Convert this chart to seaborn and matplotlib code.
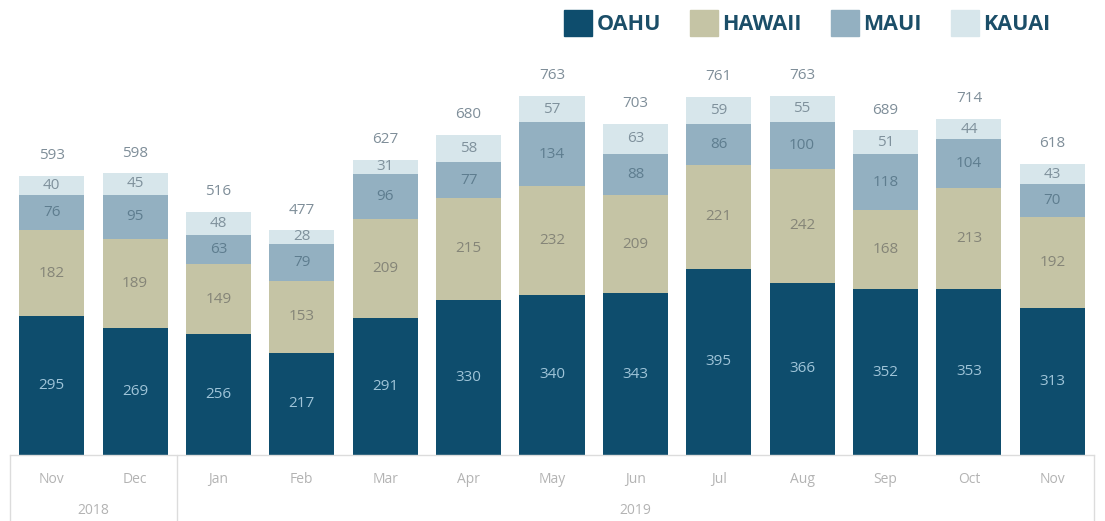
import matplotlib
matplotlib.use("Agg")
import matplotlib.pyplot as plt
import matplotlib.patches as mpatches
import seaborn as sns
import pandas as pd
import numpy as np

months = ["Nov", "Dec", "Jan", "Feb", "Mar", "Apr", "May", "Jun", "Jul", "Aug", "Sep", "Oct", "Nov"]
years = ["2018", "2019"]
year_spans = [(0, 1), (2, 12)]
oahu = [295, 269, 256, 217, 291, 330, 340, 343, 395, 366, 352, 353, 313]
hawaii = [182, 189, 149, 153, 209, 215, 232, 209, 221, 242, 168, 213, 192]
maui = [76, 95, 63, 79, 96, 77, 134, 88, 86, 100, 118, 104, 70]
kauai = [40, 45, 48, 28, 31, 58, 57, 63, 59, 55, 51, 44, 43]
series_names = ["OAHU", "HAWAII", "MAUI", "KAUAI"]

colors = ["#0e4d6d", "#c5c4a5", "#93b0c1", "#d7e6eb"]
label_colors = ["#9fc4d8", "#858578", "#5e7d8f", "#7f919c"]
total_color = "#7f8e99"
legend_text_color = "#1b4e68"
line_color = "#dcdcdc"
tick_color = "#b3b3b3"

sns.set_theme(style="white")
plt.rcParams["font.family"] = ["Open Sans", "DejaVu Sans"]

series = [oahu, hawaii, maui, kauai]
cum = np.cumsum(np.array(series), axis=0)
totals = cum[-1]
xpos = list(range(len(months)))

fig = plt.figure(figsize=(11.05, 5.21), dpi=100)
ax = fig.add_axes([10 / 1105, 66 / 521, 1084 / 1105, 455 / 521])

# Draw cumulative bars from top down so that they overlap into a stack
for i in range(len(series) - 1, -1, -1):
    df = pd.DataFrame({"x": xpos, "y": cum[i]})
    sns.barplot(data=df, x="x", y="y", color=colors[i], width=0.78,
                saturation=1, ax=ax, order=xpos, linewidth=0)

# segment labels
for i, s in enumerate(series):
    bottoms = cum[i] - np.array(s)
    for j, v in enumerate(s):
        ax.text(j, bottoms[j] + v / 2, str(v), ha="center", va="center",
                fontsize=11, color=label_colors[i])

# totals
for j, t in enumerate(totals):
    ax.annotate(str(t), (j, t), xytext=(0, 9), textcoords="offset points",
                ha="center", va="bottom", fontsize=11, color=total_color)

ax.set_xlim(-0.5, len(months) - 0.5)
ax.set_ylim(0, 966)
ax.set_yticks([])
ax.set_xlabel("")
ax.set_ylabel("")
ax.set_xticks(xpos)
ax.set_xticklabels(months, fontsize=10, color=tick_color)
ax.tick_params(axis="x", length=0, pad=12)
for side in ["top", "left", "right"]:
    ax.spines[side].set_visible(False)
ax.spines["bottom"].set_color(line_color)
ax.spines["bottom"].set_linewidth(1)

# category group box lines
trans = ax.get_xaxis_transform()
boundaries = [-0.5, 1.5, len(months) - 0.5]
for b in boundaries:
    ax.plot([b, b], [0, -0.2], transform=trans, color=line_color, lw=1, clip_on=False)
for yr, (a, bnd) in zip(years, year_spans):
    ax.text((a + bnd) / 2, -0.123, yr, transform=trans, ha="center", va="center",
            fontsize=10, color=tick_color)

# legend
handles = [mpatches.Patch(color=c, label=n) for c, n in zip(colors, series_names)]
leg = fig.legend(handles=handles, loc="upper left", ncol=4,
                 bbox_to_anchor=(564 / 1105, 1 - 10 / 521), frameon=False,
                 prop={"size": 15.5, "weight": "bold"}, handlelength=1.3,
                 handleheight=1.5, handletextpad=0.2, columnspacing=1.35,
                 borderpad=0, borderaxespad=0)
for t in leg.get_texts():
    t.set_color(legend_text_color)

fig.savefig("out.png", dpi=100)
